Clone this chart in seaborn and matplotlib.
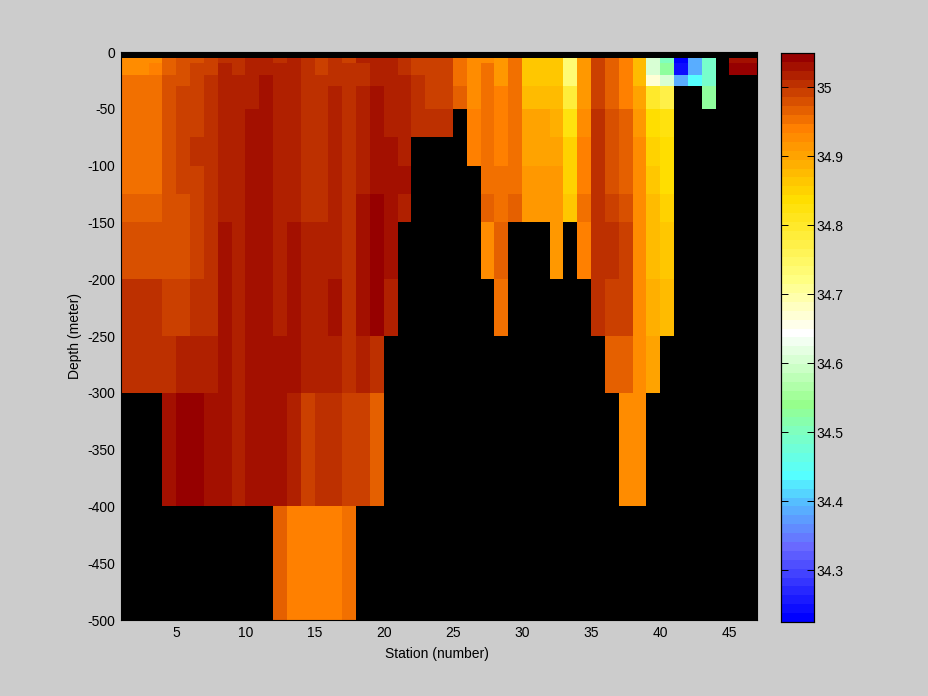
import numpy as np
import pandas as pd
import seaborn as sns
import matplotlib
matplotlib.use('Agg')
import matplotlib.pyplot as plt
from matplotlib.colors import LinearSegmentedColormap

n = np.nan
stations = list(range(1, 47))
# layer edges in metres, one row of salinity per layer
depth_edges = [0, 5, 10, 20, 30, 50, 75, 100, 125, 150, 200, 250, 300, 400, 500]

sal_0_5 = [n] * 46
sal_5_10 = [34.928, 34.928, 34.928, 34.966, 34.979, 34.979, 34.992, 35.005, 35.005, 35.018,
            35.018, 35.005, 35.018, 35.005, 34.992, 35.005, 34.992, 35.018, 35.018, 35.018,
            35.005, 34.992, 34.992, 34.992, 34.953, 34.928, 34.928, 34.915, 34.953, 34.863,
            34.863, 34.863, 34.734, 34.915, 34.992, 34.966, 34.940, 34.876, 34.60, 34.50,
            34.23, 34.38, 34.49, n, 35.031, 35.031]
sal_10_20 = [34.928, 34.928, 34.940, 34.966, 34.979, 34.992, 34.992, 35.018, 35.005, 35.018,
             35.018, 35.018, 35.018, 35.005, 34.992, 35.005, 35.005, 35.005, 35.018, 35.018,
             35.005, 34.992, 34.992, 34.992, 34.953, 34.928, 34.953, 34.915, 34.953, 34.863,
             34.863, 34.863, 34.734, 34.915, 34.992, 34.966, 34.940, 34.876, 34.60, 34.53,
             34.24, 34.39, 34.49, n, 35.044, 35.044]
sal_20_30 = [34.953, 34.953, 34.953, 34.979, 34.979, 34.992, 35.005, 35.018, 35.018, 35.018,
             35.031, 35.018, 35.018, 35.005, 35.005, 35.005, 35.005, 35.005, 35.018, 35.018,
             35.018, 35.005, 34.992, 34.992, 34.953, 34.928, 34.953, 34.915, 34.953, 34.863,
             34.863, 34.863, 34.734, 34.915, 34.992, 34.966, 34.940, 34.876, 34.67, 34.60,
             34.38, 34.44, 34.49, n, n, n]
sal_30_50 = [34.953, 34.953, 34.953, 34.979, 34.992, 34.992, 35.005, 35.018, 35.018, 35.018,
             35.031, 35.018, 35.018, 35.005, 35.005, 35.018, 35.005, 35.018, 35.031, 35.018,
             35.018, 35.005, 34.992, 34.992, 34.966, 34.928, 34.953, 34.940, 34.953, 34.876,
             34.876, 34.876, 34.786, 34.915, 34.992, 34.966, 34.940, 34.902, 34.798, 34.773,
             n, n, 34.53, n, n, n]
sal_50_75 = [34.953, 34.953, 34.953, 34.979, 34.992, 34.992, 35.005, 35.018, 35.018, 35.031,
             35.031, 35.018, 35.018, 35.005, 35.005, 35.018, 35.005, 35.018, 35.031, 35.018,
             35.018, 35.005, 35.005, 35.005, n, 34.940, 34.953, 34.940, 34.953, 34.902,
             34.902, 34.889, 34.824, 34.928, 35.005, 34.979, 34.966, 34.915, 34.837, 34.824,
             n, n, n, n, n, n]
sal_75_100 = [34.953, 34.953, 34.953, 34.979, 34.992, 35.005, 35.005, 35.018, 35.018, 35.031,
              35.031, 35.018, 35.018, 35.005, 35.005, 35.018, 35.005, 35.018, 35.031, 35.031,
              35.018, n, n, n, n, 34.940, 34.953, 34.940, 34.953, 34.902,
              34.902, 34.902, 34.850, 34.940, 35.005, 34.979, 34.966, 34.928, 34.850, 34.837,
              n, n, n, n, n, n]
sal_100_125 = [34.953, 34.953, 34.953, 34.979, 34.992, 34.992, 35.005, 35.018, 35.018, 35.031,
               35.031, 35.018, 35.018, 35.005, 35.005, 35.018, 35.005, 35.018, 35.031, 35.031,
               35.031, n, n, n, n, n, 34.953, 34.953, 34.953, 34.915,
               34.915, 34.915, 34.850, 34.940, 35.005, 34.979, 34.966, 34.928, 34.863, 34.837,
               n, n, n, n, n, n]
sal_125_150 = [34.966, 34.966, 34.966, 34.979, 34.979, 34.992, 35.005, 35.018, 35.018, 35.031,
               35.031, 35.018, 35.018, 35.005, 35.005, 35.018, 35.005, 35.031, 35.044, 35.031,
               35.018, n, n, n, n, n, 34.966, 34.953, 34.966, 34.915,
               34.915, 34.915, 34.863, 34.953, 35.005, 34.992, 34.979, 34.928, 34.876, 34.850,
               n, n, n, n, n, n]
sal_150_200 = [34.979, 34.979, 34.979, 34.979, 34.979, 34.992, 35.005, 35.031, 35.018, 35.031,
               35.031, 35.018, 35.031, 35.018, 35.018, 35.018, 35.005, 35.031, 35.044, 35.031,
               n, n, n, n, n, n, 34.928, 34.966, n, n,
               n, 34.915, n, 34.940, 35.005, 35.005, 34.992, 34.928, 34.876, 34.863,
               n, n, n, n, n, n]
sal_200_250 = [35.005, 35.005, 35.005, 34.992, 34.992, 35.005, 35.005, 35.031, 35.018, 35.031,
               35.031, 35.018, 35.031, 35.018, 35.018, 35.031, 35.005, 35.031, 35.044, 35.018,
               n, n, n, n, n, n, n, 34.953, n, n,
               n, n, n, n, 35.005, 34.992, 34.992, 34.928, 34.889, 34.876,
               n, n, n, n, n, n]
sal_250_300 = [35.005, 35.005, 35.005, 35.005, 35.018, 35.018, 35.018, 35.031, 35.018, 35.031,
               35.031, 35.031, 35.031, 35.018, 35.018, 35.018, 35.005, 35.018, 35.005, n,
               n, n, n, n, n, n, n, n, n, n,
               n, n, n, n, n, 34.966, 34.966, 34.928, 34.902, n,
               n, n, n, n, n, n]
sal_300_400 = [n, n, n, 35.031, 35.044, 35.044, 35.031, 35.031, 35.018, 35.031,
               35.031, 35.031, 35.018, 34.992, 35.005, 35.005, 34.992, 34.992, 34.966, n,
               n, n, n, n, n, n, n, n, n, n,
               n, n, n, n, n, n, 34.928, 34.928, n, n,
               n, n, n, n, n, n]
sal_400_500 = [n, n, n, n, n, n, n, n, n, n,
               n, 34.966, 34.940, 34.940, 34.940, 34.940, 34.953, n, n, n,
               n, n, n, n, n, n, n, n, n, n,
               n, n, n, n, n, n, n, n, n, n,
               n, n, n, n, n, n]

x_ticks = [5, 10, 15, 20, 25, 30, 35, 40, 45]
y_ticks = [0, 50, 100, 150, 200, 250, 300, 350, 400, 450, 500]
cbar_ticks = [34.3, 34.4, 34.5, 34.6, 34.7, 34.8, 34.9, 35.0]
cbar_labels = ['34.3', '34.4', '34.5', '34.6', '34.7', '34.8', '34.9', '35']
sal_min, sal_max = 34.225, 35.05

layers = [sal_0_5, sal_5_10, sal_10_20, sal_20_30, sal_30_50, sal_50_75, sal_75_100, sal_100_125,
          sal_125_150, sal_150_200, sal_200_250, sal_250_300, sal_300_400, sal_400_500]
# heatmap cells are all the same height, so repeat each layer on a 5 m grid
repeats = np.diff(depth_edges) // 5
df = pd.DataFrame(np.repeat(np.array(layers), repeats, axis=0), columns=stations[:46])

# colormap, 64 steps
anchors = [(0, (0, 0, 255)), (8, (105, 105, 255)), (13, (85, 190, 255)), (16, (85, 255, 255)),
           (21, (128, 255, 190)), (24, (150, 255, 140)), (32, (255, 255, 255)), (38, (255, 255, 130)),
           (47, (255, 222, 0)), (55, (255, 128, 0)), (63, (150, 0, 0))]
salt_cmap = LinearSegmentedColormap.from_list(
    'salt', [(i / 63, tuple(c / 255 for c in rgb)) for i, rgb in anchors], N=64)

sns.set_theme(style='white')
plt.rcParams['font.family'] = ['Liberation Sans', 'DejaVu Sans']
fs = 10

W, H = 928, 696
fig = plt.figure(figsize=((W + 0.1) / 100, (H + 0.1) / 100), dpi=100, facecolor='#cccccc')
ax = fig.add_axes([121 / W, 1 - 620 / H, 636 / W, 568 / H])
cax = fig.add_axes([781 / W, 1 - 622 / H, 33 / W, 569 / H])

sns.heatmap(df, ax=ax, cbar_ax=cax, cmap=salt_cmap, vmin=sal_min, vmax=sal_max,
            xticklabels=False, yticklabels=False, cbar_kws={'ticks': cbar_ticks})
ax.set_facecolor('black')
for s in ax.spines.values():
    s.set_visible(True)
    s.set_color('black')
    s.set_linewidth(0.8)

ax.set_xticks([s - 1 for s in x_ticks])
ax.set_xticklabels([str(s) for s in x_ticks], rotation=0, fontsize=fs, color='black')
ax.set_yticks([d / 5 for d in y_ticks])
ax.set_yticklabels(['0' if d == 0 else '-%d' % d for d in y_ticks], rotation=0, fontsize=fs, color='black')
ax.tick_params(axis='x', direction='in', length=0, pad=4, top=False)
ax.tick_params(axis='y', direction='in', length=0, pad=4, right=False)
ax.set_xlabel('Station (number)', fontsize=fs, color='black', labelpad=5)
ax.xaxis.label.set_x(0.4969)
ax.set_ylabel('Depth (meter)', fontsize=fs, color='black', labelpad=4)

cax.set_axisbelow(False)
cax.set_yticks(cbar_ticks)
cax.set_yticklabels(cbar_labels, fontsize=fs, color='black')
cax.tick_params(axis='y', direction='in', length=5, width=0.7, color='black', pad=2,
                left=True, right=True, labelright=True, labelleft=False)
for s in cax.spines.values():
    s.set_visible(True)
    s.set_color('black')
    s.set_linewidth(0.8)

fig.savefig('out.png', dpi=100, facecolor=fig.get_facecolor())
